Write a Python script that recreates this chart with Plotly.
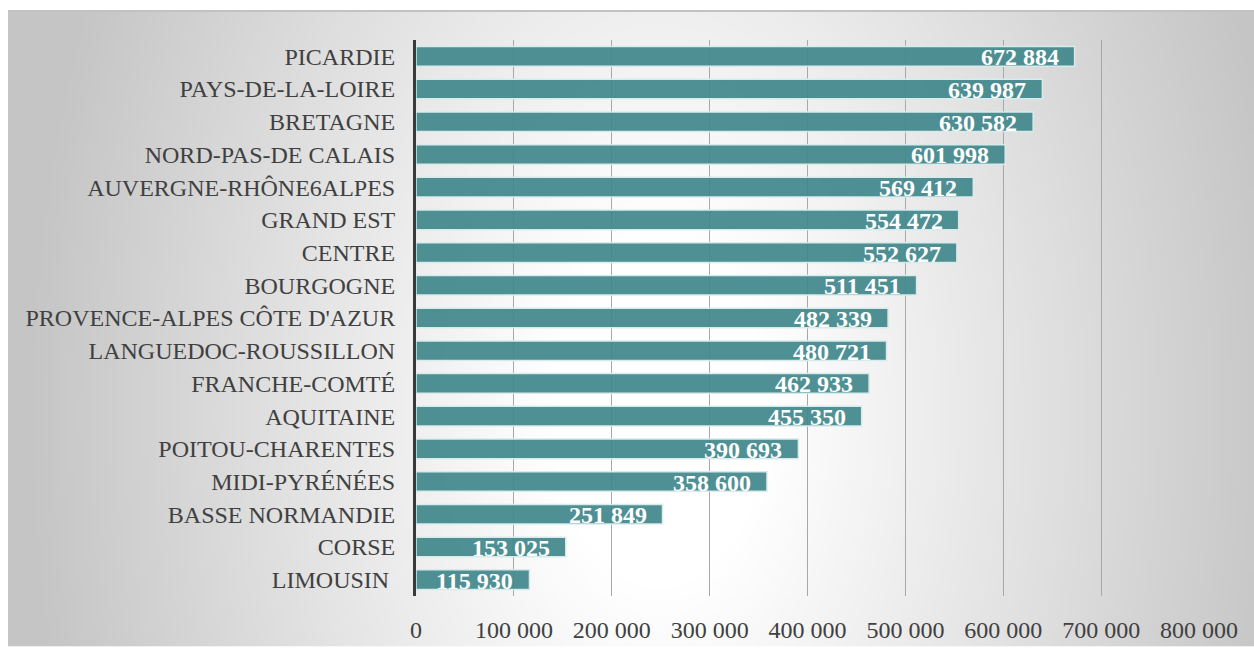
import base64
import struct
import zlib

import numpy as np
import plotly.graph_objects as go

# Regions ordered from bottom to top of the chart
regions = [
    "LIMOUSIN\u00a0",
    "CORSE",
    "BASSE NORMANDIE",
    "MIDI-PYRÉNÉES",
    "POITOU-CHARENTES",
    "AQUITAINE",
    "FRANCHE-COMTÉ",
    "LANGUEDOC-ROUSSILLON",
    "PROVENCE-ALPES CÔTE D'AZUR",
    "BOURGOGNE",
    "CENTRE",
    "GRAND EST",
    "AUVERGNE-RHÔNE6ALPES",
    "NORD-PAS-DE CALAIS",
    "BRETAGNE",
    "PAYS-DE-LA-LOIRE",
    "PICARDIE",
]
values = [
    115930, 153025, 251849, 358600, 390693, 455350, 462933, 480721,
    482339, 511451, 552627, 554472, 569412, 601998, 630582, 639987, 672884,
]
x_tick_values = [0, 100000, 200000, 300000, 400000, 500000, 600000, 700000, 800000]
x_tick_labels = ["0", "100 000", "200 000", "300 000", "400 000",
                 "500 000", "600 000", "700 000", "800 000"]

W, H = 1254, 655
M_L, M_R, M_T, M_B = 416, 55, 40, 51
PW, PH = W - M_L - M_R, H - M_T - M_B

SERIF = "Liberation Serif, Times New Roman, serif"


def fmt(v):
    return f"{v:,}".replace(",", " ")


def png_data_uri(rgb):
    h, w, _ = rgb.shape
    raw = b"".join(b"\x00" + rgb[i].tobytes() for i in range(h))

    def chunk(tag, data):
        c = struct.pack(">I", len(data)) + tag + data
        return c + struct.pack(">I", zlib.crc32(tag + data) & 0xFFFFFFFF)

    png = (b"\x89PNG\r\n\x1a\n"
           + chunk(b"IHDR", struct.pack(">IIBBBBB", w, h, 8, 2, 0, 0, 0))
           + chunk(b"IDAT", zlib.compress(raw, 9))
           + chunk(b"IEND", b""))
    return "data:image/png;base64," + base64.b64encode(png).decode()


# Soft radial backdrop: light in the middle, grey towards the edges
bx0, by0, bx1, by1 = 8, 10, W, H
gw, gh = 312, 162
gx = np.linspace(bx0, bx1, gw)
gy = np.linspace(by0, by1, gh)
XX, YY = np.meshgrid(gx, gy)
d = np.sqrt(((XX - 660) / 620.0) ** 2 + ((YY - 420) / 1000.0) ** 2)
t = np.clip((d - 0.18) / 0.85, 0, 1)
shade = (255 - t * 58).astype(np.uint8)
bg = np.dstack([shade, shade, shade])
bg_uri = png_data_uri(bg)


def px_to_paper_x(px):
    return (px - M_L) / PW


def py_to_paper_y(py):
    return 1 - (py - M_T) / PH


fig = go.Figure()
fig.add_trace(go.Bar(
    y=regions,
    x=values,
    orientation="h",
    marker=dict(color="rgba(66,136,141,0.93)",
                line=dict(color="rgba(215,235,235,1)", width=1.5)),
    hoverinfo="x+y",
    showlegend=False,
))

for r, v in zip(regions, values):
    fig.add_annotation(
        x=v, y=r, text=f"<b>{fmt(v)}</b>", showarrow=False,
        xanchor="right", yanchor="middle", xshift=-14, yshift=-1,
        font=dict(family=SERIF, size=24, color="white"),
    )

fig.add_layout_image(dict(
    source=bg_uri, xref="paper", yref="paper",
    x=px_to_paper_x(bx0), y=py_to_paper_y(by0),
    sizex=(bx1 - bx0) / PW, sizey=(by1 - by0) / PH,
    xanchor="left", yanchor="top", sizing="stretch", layer="below",
))
fig.add_shape(type="line", xref="paper", yref="paper",
              x0=px_to_paper_x(bx0), x1=px_to_paper_x(W),
              y0=py_to_paper_y(by0 + 0.5), y1=py_to_paper_y(by0 + 0.5),
              line=dict(color="#c2c2c2", width=2), layer="below")

fig.update_layout(
    width=W, height=H,
    margin=dict(l=M_L, r=M_R, t=M_T, b=M_B, pad=0),
    paper_bgcolor="white",
    plot_bgcolor="rgba(0,0,0,0)",
    bargap=0.4,
    font=dict(family=SERIF, size=24, color="#404040"),
)
fig.update_xaxes(
    range=[0, 800000],
    tickvals=x_tick_values, ticktext=x_tick_labels,
    showgrid=True, gridcolor="#a8a8a8", gridwidth=1,
    zeroline=False, showline=False,
    ticks="outside", ticklen=12, tickcolor="rgba(0,0,0,0)",
    tickfont=dict(family=SERIF, size=24, color="#404040"),
)
fig.update_yaxes(
    showgrid=False, zeroline=False,
    showline=True, linecolor="#3a3a3a", linewidth=3,
    ticks="outside", ticklen=13, tickcolor="rgba(0,0,0,0)",
    tickfont=dict(family=SERIF, size=24, color="#404040"),
)

fig.write_html("out.html")
